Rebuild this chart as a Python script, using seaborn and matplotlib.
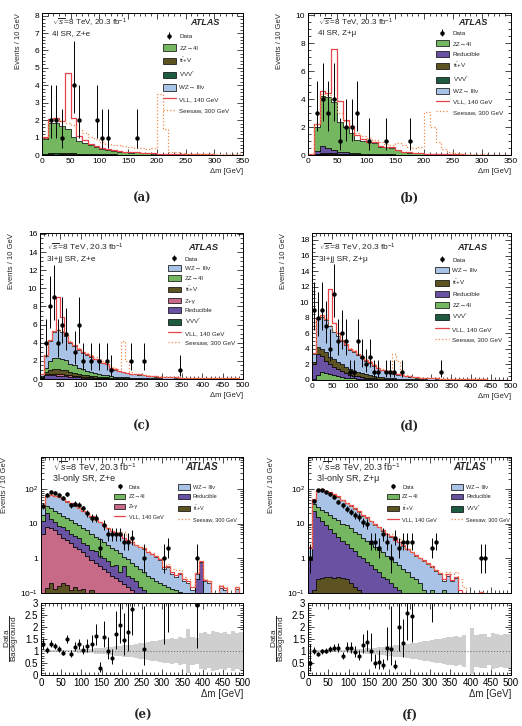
import numpy as np
import pandas as pd
import matplotlib
matplotlib.use('Agg')
import matplotlib.pyplot as plt
from matplotlib.patches import Patch
from matplotlib.lines import Line2D
from matplotlib.ticker import MultipleLocator, AutoMinorLocator, NullFormatter
import seaborn as sns

# ---- (a) 4l SR, Z+e : 10 GeV bins, 0-350
zz_a = [0.85, 1.75, 1.7, 1.55, 1.4, 0.95, 0.75, 0.6, 0.5, 0.4,
        0.33, 0.27, 0.22, 0.18, 0.15, 0.12, 0.15, 0.1, 0.08, 0.06,
        0.05, 0.04, 0.04, 0.03, 0.03, 0.02, 0.02, 0.02, 0.01, 0.01,
        0.01, 0.01, 0.01, 0.01, 0.01]
ttv_a = [0.02, 0.04, 0.05, 0.05, 0.04, 0.04, 0.03, 0.03, 0.02, 0.02,
         0.02, 0.02, 0.01, 0.01, 0.01, 0.01, 0.01, 0.01, 0.01, 0,
         0, 0, 0, 0, 0, 0, 0, 0, 0, 0, 0, 0, 0, 0, 0]
vvv_a = [0.03, 0.06, 0.07, 0.06, 0.06, 0.05, 0.04, 0.03, 0.03, 0.02,
         0.02, 0.02, 0.02, 0.01, 0.01, 0.01, 0.01, 0.01, 0.01, 0.01,
         0, 0, 0, 0, 0, 0, 0, 0, 0, 0, 0, 0, 0, 0, 0]
wz_a = [0.01, 0.01, 0.02, 0.01, 0.01, 0.01, 0.01, 0.01, 0.01, 0.01,
        0, 0, 0, 0, 0, 0, 0, 0, 0, 0,
        0, 0, 0, 0, 0, 0, 0, 0, 0, 0, 0, 0, 0, 0, 0]
vll_a = [1.05, 2.05, 2.1, 1.95, 4.7, 2.1, 1.1, 0.85, 0.65, 0.52,
         0.42, 0.35, 0.28, 0.24, 0.2, 0.17, 0.2, 0.14, 0.11, 0.09,
         0.08, 0.07, 0.06, 0.05, 0.05, 0.04, 0.04, 0.03, 0.03, 0.03,
         0.02, 0.02, 0.02, 0.02, 0.02]
seesaw_a = [1.0, 1.95, 2.05, 1.95, 1.85, 1.75, 1.45, 1.25, 1.05, 0.9,
            0.75, 0.65, 0.6, 0.55, 0.5, 0.45, 0.4, 0.38, 0.35, 0.4,
            3.5, 1.5, 0.2, 0.18, 0.1, 0.07, 0.05, 0.05, 0.04, 0.04,
            0.03, 0.03, 0.03, 0.03, 0.03]
data_a = [0, 2, 2, 1, 0, 4, 2, 0, 0, 2, 1, 1, 0, 0, 0, 0, 1, 0, 0, 0,
          0, 0, 0, 0, 0, 0, 0, 0, 0, 0, 0, 0, 0, 0, 0]

# ---- (b) 4l SR, Z+mu
zz_b = [0.05, 1.75, 3.55, 3.65, 3.45, 2.15, 1.85, 1.4, 1.0, 0.9,
        0.82, 0.8, 0.52, 0.5, 0.48, 0.3, 0.2, 0.15, 0.12, 0.1,
        0.08, 0.07, 0.05, 0.04, 0.04, 0.03, 0.03, 0.02, 0.02, 0.02,
        0.01, 0.01, 0.01, 0.01, 0.01]
red_b = [0.02, 0.18, 0.5, 0.35, 0.22, 0.12, 0.1, 0.08, 0.06, 0.05,
         0.04, 0.04, 0.03, 0.03, 0.02, 0.02, 0.02, 0.01, 0.01, 0.01,
         0, 0, 0, 0, 0, 0, 0, 0, 0, 0, 0, 0, 0, 0, 0]
ttv_b = [0, 0.03, 0.05, 0.05, 0.04, 0.04, 0.03, 0.03, 0.02, 0.02,
         0.02, 0.01, 0.01, 0.01, 0.01, 0, 0, 0, 0, 0,
         0, 0, 0, 0, 0, 0, 0, 0, 0, 0, 0, 0, 0, 0, 0]
vvv_b = [0.01, 0.04, 0.08, 0.07, 0.06, 0.05, 0.04, 0.03, 0.03, 0.02,
         0.02, 0.02, 0.01, 0.01, 0.01, 0.01, 0, 0, 0, 0,
         0, 0, 0, 0, 0, 0, 0, 0, 0, 0, 0, 0, 0, 0, 0]
wz_b = [0, 0.01, 0.01, 0.01, 0.01, 0.01, 0.01, 0, 0, 0,
        0, 0, 0, 0, 0, 0, 0, 0, 0, 0,
        0, 0, 0, 0, 0, 0, 0, 0, 0, 0, 0, 0, 0, 0, 0]
vll_b = [0.1, 2.2, 4.6, 4.45, 7.6, 3.9, 2.5, 2.05, 1.4, 1.15,
         0.95, 0.9, 0.62, 0.58, 0.55, 0.35, 0.25, 0.18, 0.14, 0.12,
         0.1, 0.08, 0.06, 0.05, 0.05, 0.04, 0.04, 0.03, 0.03, 0.03,
         0.02, 0.02, 0.02, 0.02, 0.02]
seesaw_b = [0.1, 2.2, 4.4, 4.3, 4.0, 3.0, 2.4, 2.0, 1.6, 1.35,
            1.2, 1.05, 0.9, 0.8, 0.7, 0.85, 0.7, 0.55, 0.5, 0.55,
            3.1, 2.0, 0.9, 0.4, 0.2, 0.12, 0.08, 0.06, 0.05, 0.04,
            0.04, 0.03, 0.03, 0.03, 0.03]
data_b = [0, 3, 4, 3, 4, 1, 2, 2, 3, 0, 1, 0, 0, 1, 0, 0, 0, 1, 0, 0,
          0, 0, 0, 0, 0, 0, 0, 0, 0, 0, 0, 0, 0, 0, 0]

# ---- (c) 3l+jj SR, Z+e : 0-500
wz_c = [0.2, 1.3, 2.15, 2.85, 3.0, 2.9, 2.65, 2.3, 2.1, 2.0,
        1.85, 1.8, 1.7, 1.55, 1.45, 1.3, 1.2, 0.9, 0.75, 0.65,
        0.57, 0.5, 0.42, 0.38, 0.34, 0.3, 0.27, 0.23, 0.21, 0.19,
        0.17, 0.16, 0.14, 0.13, 0.12, 0.1, 0.09, 0.08, 0.08, 0.07,
        0.06, 0.06, 0.05, 0.05, 0.05, 0.04, 0.04, 0.03, 0.03, 0.03]
zz_c = [0.1, 0.4, 1.0, 1.2, 1.25, 1.25, 1.1, 0.9, 0.8, 0.7,
        0.6, 0.5, 0.4, 0.35, 0.3, 0.25, 0.22, 0.15, 0.12, 0.1,
        0.09, 0.08, 0.07, 0.06, 0.05, 0.05, 0.04, 0.04, 0.03, 0.03,
        0.03, 0.02, 0.02, 0.02, 0.02, 0.02, 0.01, 0.01, 0.01, 0.01,
        0.01, 0.01, 0.01, 0.01, 0.01, 0.01, 0.01, 0.01, 0.01, 0.01]
ttv_c = [0.05, 0.3, 0.4, 0.5, 0.55, 0.5, 0.5, 0.4, 0.35, 0.25,
         0.2, 0.2, 0.17, 0.14, 0.12, 0.1, 0.09, 0.08, 0.07, 0.06,
         0.05, 0.05, 0.04, 0.04, 0.03, 0.03, 0.03, 0.02, 0.02, 0.02,
         0.02, 0.02, 0.01, 0.01, 0.01, 0.01, 0.01, 0.01, 0.01, 0.01,
         0, 0, 0, 0, 0, 0, 0, 0, 0, 0]
zg_c = [0.03, 0.1, 0.15, 0.2, 0.2, 0.18, 0.17, 0.15, 0.13, 0.1,
        0.1, 0.08, 0.07, 0.06, 0.05, 0.04, 0.04, 0.03, 0.03, 0.02,
        0.02, 0.02, 0.01, 0.01, 0.01, 0, 0, 0, 0, 0,
        0, 0, 0, 0, 0, 0, 0, 0, 0, 0, 0, 0, 0, 0, 0, 0, 0, 0, 0, 0]
red_c = [0.1, 0.35, 0.4, 0.35, 0.3, 0.28, 0.24, 0.21, 0.19, 0.17,
         0.12, 0.1, 0.09, 0.08, 0.07, 0.06, 0.05, 0.04, 0.04, 0.03,
         0.03, 0.02, 0.02, 0.02, 0.01, 0.01, 0.01, 0.01, 0.01, 0.01,
         0, 0, 0, 0, 0, 0, 0, 0, 0, 0, 0, 0, 0, 0, 0, 0, 0, 0, 0, 0]
vvv_c = [0.02, 0.05, 0.05, 0.05, 0.05, 0.04, 0.04, 0.04, 0.03, 0.03,
         0.03, 0.02, 0.02, 0.02, 0.02, 0.02, 0.01, 0.01, 0.01, 0.01,
         0.01, 0.01, 0.01, 0.01, 0.01, 0, 0, 0, 0, 0,
         0, 0, 0, 0, 0, 0, 0, 0, 0, 0, 0, 0, 0, 0, 0, 0, 0, 0, 0, 0]
vll_c = [0.5, 2.6, 4.3, 5.3, 9.0, 6.8, 4.9, 4.1, 3.7, 3.3,
         2.95, 2.75, 2.5, 2.25, 2.05, 1.8, 1.65, 1.25, 1.05, 0.9,
         0.8, 0.7, 0.6, 0.55, 0.5, 0.43, 0.38, 0.33, 0.3, 0.27,
         0.24, 0.22, 0.2, 0.18, 0.16, 0.15, 0.14, 0.13, 0.12, 0.11,
         0.1, 0.09, 0.09, 0.08, 0.08, 0.07, 0.07, 0.06, 0.06, 0.05]
seesaw_c = [0.5, 2.6, 4.3, 5.3, 5.5, 5.3, 4.9, 4.2, 3.8, 3.45,
            3.1, 2.9, 2.65, 2.4, 2.2, 1.95, 1.8, 1.4, 1.2, 1.1,
            4.2, 2.0, 0.8, 0.6, 0.55, 0.48, 0.42, 0.36, 0.32, 0.28,
            0.25, 0.23, 0.21, 0.19, 0.17, 0.16, 0.15, 0.14, 0.13, 0.12,
            0.11, 0.1, 0.09, 0.08, 0.08, 0.07, 0.07, 0.06, 0.06, 0.05]
data_c = [0, 4, 8, 9, 4, 6, 5, 0, 3, 6, 2, 0, 2, 0, 2, 0, 2, 1, 0, 0,
          0, 0, 2, 0, 0, 2, 0, 0, 0, 0, 0, 0, 0, 0, 1, 0, 0, 0, 0, 0,
          0, 0, 0, 0, 0, 0, 0, 0, 0, 0]

# ---- (d) 3l+jj SR, Z+mu
wz_d = [1.1, 3.6, 4.1, 4.1, 3.9, 3.5, 3.4, 3.0, 2.8, 2.5,
        2.45, 2.2, 1.95, 1.75, 1.55, 1.3, 1.08, 0.95, 0.8, 0.65,
        0.58, 0.5, 0.43, 0.35, 0.3, 0.26, 0.23, 0.2, 0.18, 0.16,
        0.15, 0.13, 0.12, 0.11, 0.1, 0.09, 0.08, 0.08, 0.07, 0.06,
        0.06, 0.05, 0.05, 0.05, 0.04, 0.04, 0.03, 0.03, 0.03, 0.03]
ttv_d = [0.3, 0.9, 0.9, 1.1, 1.0, 1.0, 0.95, 0.9, 0.8, 0.7,
         0.6, 0.55, 0.47, 0.43, 0.37, 0.28, 0.24, 0.2, 0.18, 0.15,
         0.14, 0.13, 0.11, 0.1, 0.08, 0.06, 0.06, 0.05, 0.05, 0.04,
         0.04, 0.03, 0.03, 0.03, 0.02, 0.02, 0.02, 0.02, 0.01, 0.01,
         0.01, 0.01, 0.01, 0.01, 0, 0, 0, 0, 0, 0]
red_d = [1.85, 2.6, 2.1, 1.6, 1.25, 1.1, 0.85, 0.7, 0.6, 0.45,
         0.35, 0.28, 0.24, 0.2, 0.18, 0.14, 0.11, 0.09, 0.07, 0.06,
         0.05, 0.04, 0.04, 0.03, 0.03, 0.02, 0.02, 0.02, 0.01, 0.01,
         0.01, 0.01, 0.01, 0.01, 0.01, 0, 0, 0, 0, 0,
         0, 0, 0, 0, 0, 0, 0, 0, 0, 0]
zz_d = [0.13, 0.66, 0.95, 0.85, 0.71, 0.56, 0.47, 0.37, 0.27, 0.23,
        0.18, 0.15, 0.12, 0.11, 0.09, 0.07, 0.06, 0.05, 0.04, 0.03,
        0.03, 0.02, 0.02, 0.02, 0.01, 0.01, 0.01, 0.01, 0.01, 0.01,
        0, 0, 0, 0, 0, 0, 0, 0, 0, 0, 0, 0, 0, 0, 0, 0, 0, 0, 0, 0]
vvv_d = [0.02, 0.04, 0.05, 0.05, 0.04, 0.04, 0.03, 0.03, 0.03, 0.02,
         0.02, 0.02, 0.02, 0.01, 0.01, 0.01, 0.01, 0.01, 0.01, 0.01,
         0, 0, 0, 0, 0, 0, 0, 0, 0, 0,
         0, 0, 0, 0, 0, 0, 0, 0, 0, 0, 0, 0, 0, 0, 0, 0, 0, 0, 0, 0]
vll_d = [3.5, 8.0, 8.3, 7.9, 11.7, 7.3, 6.0, 5.2, 4.6, 4.0,
         3.7, 3.3, 2.9, 2.6, 2.3, 1.9, 1.6, 1.35, 1.15, 0.95,
         0.85, 0.75, 0.65, 0.55, 0.45, 0.4, 0.35, 0.3, 0.27, 0.24,
         0.22, 0.2, 0.18, 0.16, 0.15, 0.13, 0.12, 0.11, 0.1, 0.09,
         0.09, 0.08, 0.07, 0.07, 0.06, 0.06, 0.05, 0.05, 0.05, 0.04]
seesaw_d = [3.5, 8.0, 8.3, 7.9, 7.1, 6.4, 5.9, 5.2, 4.7, 4.1,
            3.8, 3.4, 3.0, 2.7, 2.4, 2.0, 1.7, 1.45, 1.25, 1.05,
            3.4, 2.4, 0.8, 0.6, 0.5, 0.42, 0.37, 0.32, 0.28, 0.25,
            0.22, 0.2, 0.18, 0.16, 0.15, 0.13, 0.12, 0.11, 0.1, 0.09,
            0.09, 0.08, 0.07, 0.07, 0.06, 0.06, 0.05, 0.05, 0.05, 0.04]
data_d = [9, 8, 9, 7, 4, 11, 5, 6, 5, 1, 1, 5, 3, 2, 3, 1, 1, 0, 1, 1,
          1, 0, 1, 0, 0, 0, 0, 0, 0, 0, 0, 0, 1, 0, 0, 0, 0, 0, 0, 0,
          0, 0, 0, 0, 0, 0, 0, 0, 0, 0]

# ---- (e) 3l-only SR, Z+e (log)
wz_e = [12, 32, 39, 40, 39, 35, 29, 25.5, 22.5, 19,
        15.5, 13.5, 10.8, 8.7, 7.4, 6.1, 5.2, 4.2, 3.8, 3.3,
        2.8, 2.45, 2.15, 1.8, 1.6, 1.5, 1.18, 1.03, 0.88, 0.7,
        0.33, 0.4, 0.22, 0.18, 0.24, 0.12, 0.2, 0.12, 0.1, 0.05,
        0.22, 0.2, 0, 0, 0.14, 0.12, 0, 0, 0.13, 0]
zz_e = [6, 12, 15, 13, 11, 9, 8.5, 7.5, 6, 5.2,
        4.7, 4.1, 3.4, 2.7, 2.4, 1.85, 1.55, 1.4, 1.05, 1.0,
        0.5, 0.63, 0.48, 0.38, 0.35, 0.28, 0.22, 0.17, 0.22, 0.2,
        0.17, 0.15, 0.13, 0.12, 0.11, 0.1, 0, 0, 0, 0,
        0, 0, 0, 0, 0, 0, 0, 0, 0, 0]
red_e = [7, 12, 6.5, 4.5, 4, 4, 3.1, 2.2, 2.3, 2.0,
         1.3, 1.2, 0.9, 0.85, 0.6, 0.55, 0.45, 0.28, 0.38, 0.18,
         0.42, 0.17, 0.15, 0.12, 0.15, 0.12, 0.1, 0.1, 0, 0,
         0, 0, 0, 0, 0, 0, 0, 0, 0.25, 0.8,
         0, 0, 0, 0, 0, 0, 0, 0, 0, 0]
zg_e = [5, 7.9, 7.3, 6.4, 4.8, 3.8, 3.2, 2.7, 2.05, 1.7,
        1.37, 1.1, 0.78, 0.67, 0.54, 0.45, 0.36, 0.29, 0.24, 0.2,
        0.16, 0.14, 0.11, 0.09, 0, 0, 0, 0, 0, 0,
        0, 0, 0, 0, 0, 0, 0, 0, 0, 0, 0, 0, 0, 0, 0, 0, 0, 0, 0, 0]
ttv_e = [0.02, 0.14, 0.2, 0.13, 0.16, 0.2, 0.17, 0.12, 0.15, 0.12,
         0.13, 0.1, 0.12, 0.08, 0.06, 0.05, 0.04, 0.03, 0.03, 0.02,
         0.02, 0.01, 0.01, 0.01, 0, 0, 0, 0, 0, 0,
         0, 0, 0, 0, 0, 0, 0, 0, 0, 0, 0, 0, 0, 0, 0, 0, 0, 0, 0, 0]
vll_e = [31, 66, 70, 66, 61, 54, 45, 39, 34, 29,
         24, 20.5, 16.5, 13.4, 11.3, 9.2, 7.8, 6.4, 5.6, 4.8,
         4.0, 3.5, 3.0, 2.5, 2.2, 1.95, 1.55, 1.35, 1.15, 0.95,
         0.55, 0.6, 0.4, 0.33, 0.38, 0.25, 0.22, 0.15, 0.37, 0.87,
         0.24, 0.22, 0.05, 0.05, 0.16, 0.14, 0.05, 0.05, 0.15, 0.05]
seesaw_e = [30, 64, 68, 64, 59, 52, 44, 38, 33, 28,
            23, 20, 16, 13, 11, 9.2, 7.8, 6.4, 5.8, 6.0,
            5.8, 4.5, 3.2, 2.5, 2.2, 2.0, 1.6, 1.4, 1.2, 1.0,
            0.6, 0.7, 0.5, 0.45, 0.45, 0.3, 0.25, 0.15, 0.38, 0.87,
            0.25, 0.22, 0.06, 0.06, 0.17, 0.15, 0.06, 0.06, 0.15, 0.06]
data_e = [33, 68, 82, 80, 67, 57, 72, 34, 38, 36, 28, 20, 15, 15, 2, 9, 5, 5, 5, 5,
          3, 3, 4, 0, 0, 1, 0, 0, 0, 0, 1, 2, 0, 0, 0, 0, 0, 0, 1, 0,
          0, 0, 0, 0, 0, 0, 0, 0, 0, 0]
ratio_e = [1.28, 1.05, 1.3, 1.2, 1.08, 0.93, 1.5, 0.88, 1.18, 1.28,
           1.05, 1.2, 1.3, 1.63, 0.28, 1.6, 1.02, 0.7, 1.7, 2.1,
           1.47, 1.8, 2.75, 0, 0, 1.1, 0, 0, 0, 0,
           3.4, 3.6, 0, 0, 0, 0, 0, 0, 2.9, 0,
           0, 0, 0, 0, 0, 0, 0, 0, 0, 0]
band_e = [0.06, 0.04, 0.04, 0.04, 0.05, 0.05, 0.05, 0.06, 0.06, 0.07,
          0.08, 0.09, 0.1, 0.11, 0.12, 0.14, 0.15, 0.17, 0.19, 0.21,
          0.23, 0.25, 0.27, 0.3, 0.32, 0.35, 0.37, 0.4, 0.42, 0.45,
          0.5, 0.48, 0.55, 0.52, 0.6, 0.55, 0.9, 0.6, 0.55, 0.75,
          0.8, 0.7, 0.85, 0.8, 0.75, 0.8, 0.7, 0.85, 0.75, 0.8]

# ---- (f) 3l-only SR, Z+mu (log)
wz_f = [1, 12, 64, 72, 68, 62, 55, 47, 38, 31,
        25.5, 21, 17, 13, 11.7, 9.3, 7.3, 6.2, 4.8, 3.8,
        3.2, 2.6, 2.25, 1.8, 1.45, 1.2, 0.95, 0.8, 0.71, 0.57,
        0.44, 0.33, 0.28, 0.1, 0.27, 0.12, 0.27, 0.1, 0.08, 0,
        0, 0, 0, 0, 0, 0, 0, 0, 0, 0]
zz_f = [0.1, 14, 14, 14, 13, 11, 9.5, 8.8, 6.8, 6.5,
        5.5, 4.4, 3.8, 3.0, 2.5, 2.05, 1.7, 1.4, 1.2, 0.95,
        0.8, 0.65, 0.53, 0.4, 0.32, 0.24, 0.2, 0.16, 0.12, 0.1,
        0.12, 0.1, 0.08, 0.12, 0.05, 0.1, 0, 0, 0, 0,
        0, 0, 0, 0, 0, 0, 0, 0, 0, 0]
red_f = [0.9, 23.9, 15.7, 11.7, 8.7, 6.7, 5.2, 3.9, 2.9, 2.3,
         1.8, 1.45, 1.08, 0.9, 0.72, 0.59, 0.45, 0.36, 0.27, 0.23,
         0.18, 0.14, 0.12, 0.1, 0.08, 0.06, 0.05, 0.04, 0, 0,
         0, 0, 0, 0, 0, 0, 0, 0, 0, 0, 0, 0, 0, 0, 0, 0, 0, 0, 0, 0]
ttv_f = [0, 0.1, 0.22, 0.25, 0.27, 0.27, 0.26, 0.28, 0.26, 0.23,
         0.19, 0.14, 0.12, 0.1, 0.08, 0.06, 0.05, 0.04, 0.03, 0.02,
         0.02, 0.01, 0, 0, 0, 0, 0, 0, 0, 0,
         0, 0, 0, 0, 0, 0, 0, 0, 0, 0, 0, 0, 0, 0, 0, 0, 0, 0, 0, 0]
vvv_f = [0, 0.02, 0.03, 0.03, 0.03, 0.03, 0.02, 0.02, 0.02, 0.02,
         0.01, 0.01, 0, 0, 0, 0, 0, 0, 0, 0,
         0, 0, 0, 0, 0, 0, 0, 0, 0, 0,
         0, 0, 0, 0, 0, 0, 0, 0, 0, 0, 0, 0, 0, 0, 0, 0, 0, 0, 0, 0]
vll_f = [2.1, 51, 96, 100, 92, 82, 72, 62, 49, 41,
         34, 28, 23, 18, 15.5, 12.5, 9.8, 8.3, 6.5, 5.2,
         4.4, 3.5, 3.0, 2.4, 1.9, 1.55, 1.25, 1.05, 0.9, 0.72,
         0.6, 0.47, 0.38, 0.25, 0.35, 0.24, 0.3, 0.12, 0.1, 0.05,
         0.05, 0.05, 0.11, 0.05, 0.05, 0.05, 0.05, 0.05, 0.05, 0.05]
seesaw_f = [2, 50, 94, 98, 90, 80, 70, 60, 48, 40,
            33, 27, 22, 17, 15, 12, 9.5, 8, 6.6, 5.5,
            5.0, 4.2, 3.6, 2.5, 1.9, 1.5, 1.2, 1.0, 0.86, 0.7,
            0.56, 0.45, 0.38, 0.35, 0.4, 0.35, 0.4, 0.25, 0.15, 0.06,
            0.06, 0.06, 0.11, 0.06, 0.06, 0.06, 0.06, 0.06, 0.06, 0.06]
data_f = [1, 46, 95, 95, 85, 71, 60, 43, 35, 27, 22, 18, 16, 11, 10, 3, 3, 2, 5, 3,
          1, 4, 2, 3, 3, 3, 0, 0, 0, 0, 2, 3, 0, 0, 0, 0, 0, 0, 0, 0,
          0, 0, 1, 1, 0, 0, 0, 0, 0, 0]
ratio_f = [0.49, 1.02, 0.88, 0.98, 1.02, 1.09, 1.12, 1.14, 0.8, 1.14,
           1.12, 0.96, 0.81, 1.26, 1.37, 1.0, 0.49, 0.53, 0.42, 1.12,
           1.1, 0.38, 2.02, 1.32, 2.58, 2.44, 0, 0, 0, 0,
           4.4, 7.5, 0, 0, 0, 0, 0, 0, 0, 0,
           0, 0, 9, 9, 0, 0, 0, 0, 0, 0]
band_f = [0.08, 0.04, 0.04, 0.04, 0.04, 0.05, 0.05, 0.05, 0.06, 0.06,
          0.07, 0.08, 0.09, 0.1, 0.11, 0.12, 0.13, 0.15, 0.17, 0.19,
          0.21, 0.23, 0.25, 0.27, 0.3, 0.32, 0.35, 0.38, 0.4, 0.43,
          0.47, 0.5, 0.52, 0.55, 0.58, 0.6, 0.62, 0.6, 0.65, 0,
          0.95, 0.65, 0.7, 0.72, 0.6, 0.75, 0.7, 0.65, 0.7, 0.72]

colors = {'wz': '#a9c3e6', 'zz': '#74b760', 'ttv': '#5c5222', 'vvv': '#1d5a40',
          'red': '#6a52a2', 'zg': '#c76a88'}
names = {'wz': 'WZ\u2192 lll\u03bd', 'zz': 'ZZ\u21924l', 'ttv': r'$\mathrm{t\bar{t}}$+V',
         'vvv': r'VVV$^{*}$', 'red': 'Reducible', 'zg': 'Z+\u03b3'}
VLL_COL = '#e8434a'
SS_COL = '#f0884c'

sns.set_theme(style='ticks')
plt.rcParams['font.family'] = ['Liberation Sans', 'DejaVu Sans']
plt.rcParams['mathtext.fontset'] = 'custom'
plt.rcParams['mathtext.rm'] = 'Liberation Sans'
plt.rcParams['mathtext.it'] = 'Liberation Sans:italic'
plt.rcParams['mathtext.bf'] = 'Liberation Sans:bold'

W, H = 522, 726
fig = plt.figure(figsize=(W / 100, H / 100), dpi=100)


def rect(l, t, r, b):
    return [l / W, 1 - b / H, (r - l) / W, (b - t) / H]


def poisson(n):
    n = np.asarray(n, float)
    lo = n - (n + 0.5 - np.sqrt(n + 0.25))
    hi = (n + 0.5 + np.sqrt(n + 0.25)) - n
    return lo, hi


def style(ax):
    ax.tick_params(which='both', direction='in', top=True, right=True,
                   labelsize=6, width=0.5, pad=2, colors='black')
    ax.tick_params(which='major', length=4)
    ax.tick_params(which='minor', length=2)
    for s in ax.spines.values():
        s.set_linewidth(0.7)
        s.set_color('black')


def draw_panel(ax, xmax, procs, vll, seesaw, data):
    edges = list(range(0, xmax + 10, 10))
    centers = np.array(edges[:-1]) + 5
    keys = [k for k, _ in procs]
    df = pd.DataFrame({'dm': np.tile(centers, len(procs)),
                       'w': np.concatenate([np.asarray(v, float) for _, v in procs]),
                       'proc': np.repeat(keys, len(centers))})
    sns.histplot(data=df, x='dm', weights='w', hue='proc', hue_order=keys,
                 multiple='stack', element='step', bins=edges,
                 palette=[colors[k] for k in keys], alpha=1,
                 edgecolor='black', linewidth=0.5, legend=False, ax=ax)
    sns.histplot(x=centers, weights=vll, bins=edges, element='step', fill=False,
                 color=VLL_COL, linewidth=0.9, ax=ax)
    sns.histplot(x=centers, weights=seesaw, bins=edges, element='step', fill=False,
                 color=SS_COL, linewidth=0.9, linestyle=':', ax=ax)
    d = np.asarray(data, float)
    m = d > 0
    lo, hi = poisson(d[m])
    h = ax.errorbar(centers[m], d[m], yerr=[lo, hi], fmt='o', ms=2.2, color='black',
                    elinewidth=0.7, capsize=0, zorder=5)
    ax.set_xlim(0, xmax)
    ax.set_xlabel('')
    ax.set_ylabel('Events / 10 GeV', loc='top', fontsize=5.5, labelpad=9)
    ax.xaxis.set_major_locator(MultipleLocator(50))
    ax.xaxis.set_minor_locator(MultipleLocator(10))
    style(ax)
    return h


def legend(ax, h, keys, anchor, ncol=1, fs=4.5, hh=1.2, ls=0.7, cs=2.0):
    hs = [h] + [Patch(facecolor=colors[k], edgecolor='black', linewidth=0.5) for k in keys]
    hs += [Line2D([], [], color=VLL_COL, lw=0.9), Line2D([], [], color=SS_COL, lw=0.9, ls=':')]
    lb = ['Data'] + [names[k] for k in keys] + ['VLL, 140 GeV', 'Seesaw, 300 GeV']
    if ncol == 2:
        order = [0, 2, 4, 6, 1, 3, 5, 7]
        hs = [hs[i] for i in order]
        lb = [lb[i] for i in order]
    ax.legend(hs, lb, loc='upper left', bbox_to_anchor=anchor, ncol=ncol, frameon=False,
              fontsize=fs, handlelength=2.1, handleheight=hh, labelspacing=ls,
              handletextpad=0.6, borderpad=0, borderaxespad=0, columnspacing=cs)


def labels(ax, region, y1, y2, x0=0.05, xa=0.885, fs=6):
    ax.text(x0, y1, r'$\sqrt{s}$=8 TeV, 20.3 fb$^{-1}$', transform=ax.transAxes,
            fontsize=fs, va='center')
    ax.text(x0, y2, region, transform=ax.transAxes, fontsize=fs, va='center')
    ax.text(xa, y1, 'ATLAS', transform=ax.transAxes, fontsize=fs + 0.7, va='center',
            ha='right', weight='bold', style='italic')


def sublabel(x, y, s):
    fig.text(x, y, s, ha='center', va='center', family='DejaVu Serif',
             weight='bold', fontsize=8.5)


# (a)
ax = fig.add_axes(rect(42, 13, 243, 155))
keys = ['zz', 'ttv', 'vvv', 'wz']
h = draw_panel(ax, 350, [('zz', zz_a), ('ttv', ttv_a), ('vvv', vvv_a), ('wz', wz_a)],
               vll_a, seesaw_a, data_a)
ax.set_ylim(0, 8.15)
ax.yaxis.set_major_locator(MultipleLocator(1))
ax.yaxis.set_minor_locator(AutoMinorLocator(5))
ax.set_xlabel('\u0394m [GeV]', loc='right', fontsize=5.5, labelpad=2)
legend(ax, h, keys, (0.6, 0.86), hh=1.2, ls=0.8)
labels(ax, '4l SR, Z+e', 0.93, 0.855, fs=5.8)
sublabel(0.273, 0.726, '(a)')

# (b)
ax = fig.add_axes(rect(308, 13, 511, 155))
keys = ['zz', 'red', 'ttv', 'vvv', 'wz']
h = draw_panel(ax, 350, [('zz', zz_b), ('red', red_b), ('ttv', ttv_b), ('vvv', vvv_b), ('wz', wz_b)],
               vll_b, seesaw_b, data_b)
ax.set_ylim(0, 10.17)
ax.yaxis.set_major_locator(MultipleLocator(2))
ax.yaxis.set_minor_locator(AutoMinorLocator(4))
ax.set_xlabel('\u0394m [GeV]', loc='right', fontsize=5.5, labelpad=2)
legend(ax, h, keys, (0.63, 0.88), hh=1.1, ls=0.68)
labels(ax, '4l SR, Z+\u03bc', 0.93, 0.855, fs=5.8)
sublabel(0.785, 0.726, '(b)')

# (c)
ax = fig.add_axes(rect(40, 233, 243, 379))
keys = ['wz', 'zz', 'ttv', 'zg', 'red', 'vvv']
h = draw_panel(ax, 500, [('wz', wz_c), ('zz', zz_c), ('ttv', ttv_c), ('zg', zg_c),
                         ('red', red_c), ('vvv', vvv_c)], vll_c, seesaw_c, data_c)
ax.set_ylim(0, 16.1)
ax.yaxis.set_major_locator(MultipleLocator(2))
ax.yaxis.set_minor_locator(AutoMinorLocator(4))
ax.set_xlabel('\u0394m [GeV]', loc='right', fontsize=5.5, labelpad=2)
legend(ax, h, keys, (0.63, 0.845), hh=1.0, ls=0.6)
labels(ax, '3l+jj SR, Z+e', 0.9, 0.82, x0=0.033, xa=0.88)
sublabel(0.272, 0.412, '(c)')

# (d)
ax = fig.add_axes(rect(312, 233, 511, 380))
keys = ['wz', 'ttv', 'red', 'zz', 'vvv']
h = draw_panel(ax, 500, [('wz', wz_d), ('ttv', ttv_d), ('red', red_d), ('zz', zz_d),
                         ('vvv', vvv_d)], vll_d, seesaw_d, data_d)
ax.set_ylim(0, 18.9)
ax.yaxis.set_major_locator(MultipleLocator(2))
ax.yaxis.set_minor_locator(AutoMinorLocator(4))
ax.set_xlabel('\u0394m [GeV]', loc='right', fontsize=5.5, labelpad=2)
legend(ax, h, keys, (0.62, 0.84), hh=1.1, ls=0.7)
labels(ax, '3l+jj SR, Z+\u03bc', 0.9, 0.82, x0=0.033, xa=0.88)
sublabel(0.785, 0.412, '(d)')


def log_panel(main_rect, ratio_rect, procs, vll, seesaw, data, ratio, band, keys,
              region, anchor, xtxt):
    ax = fig.add_axes(main_rect)
    h = draw_panel(ax, 500, procs, vll, seesaw, data)
    ax.set_yscale('log')
    ax.set_ylim(0.1, 860)
    ax.set_yticks([0.1, 1, 10, 100])
    ax.set_yticklabels(['$10^{-1}$', '1', '10', '$10^{2}$'])
    ax.yaxis.set_minor_formatter(NullFormatter())
    ax.tick_params(labelbottom=False)
    style(ax)
    legend(ax, h, keys, anchor, ncol=2, fs=4.0, hh=1.1, ls=0.75, cs=2.6)
    labels(ax, region, 0.93, 0.84, x0=xtxt, xa=0.876, fs=6.5)

    rx = fig.add_axes(ratio_rect)
    edges = np.arange(0, 510, 10)
    centers = edges[:-1] + 5
    b = np.asarray(band, float)
    bot = np.clip(1 - b, 0, None)
    rx.bar(centers, 1 + b - bot, bottom=bot, width=10, color='#cfcfcf', linewidth=0)
    rx.axhline(1, color='#777777', lw=0.8, ls=':')
    d = np.asarray(data, float)
    r = np.asarray(ratio, float)
    m = (d > 0) & (r > 0)
    lo, hi = poisson(d[m])
    rx.errorbar(centers[m], r[m], yerr=[r[m] * lo / d[m], r[m] * hi / d[m]], fmt='o',
                ms=2.0, color='black', elinewidth=0.7, capsize=0, zorder=5)
    rx.set_xlim(0, 500)
    rx.set_ylim(0, 3)
    rx.xaxis.set_major_locator(MultipleLocator(50))
    rx.xaxis.set_minor_locator(MultipleLocator(10))
    rx.set_yticks([0, 0.5, 1, 1.5, 2, 2.5, 3])
    rx.set_yticklabels(['0', '0.5', '1', '1.5', '2', '2.5', '3'])
    rx.yaxis.set_minor_locator(AutoMinorLocator(5))
    style(rx)
    rx.tick_params(labelsize=7)
    rx.set_xlabel('\u0394m [GeV]', loc='right', fontsize=7, labelpad=1)
    rx.set_ylabel(r'$\dfrac{\mathrm{Data}}{\mathrm{Background}}$', fontsize=6, labelpad=3)
    return ax


log_panel(rect(41, 457, 243, 593), rect(41, 603, 243, 675),
          [('wz', wz_e), ('zz', zz_e), ('red', red_e), ('zg', zg_e), ('ttv', ttv_e)],
          vll_e, seesaw_e, data_e, ratio_e, band_e,
          ['wz', 'zz', 'red', 'zg', 'ttv'], '3l-only SR, Z+e', (0.36, 0.8), 0.06)
sublabel(0.274, 0.015, '(e)')

log_panel(rect(308, 457, 511, 593), rect(308, 603, 511, 675),
          [('wz', wz_f), ('zz', zz_f), ('red', red_f), ('ttv', ttv_f), ('vvv', vvv_f)],
          vll_f, seesaw_f, data_f, ratio_f, band_f,
          ['wz', 'zz', 'red', 'ttv', 'vvv'], '3l-only SR, Z+\u03bc', (0.39, 0.8), 0.045)
sublabel(0.785, 0.015, '(f)')

fig.savefig('out.png', dpi=100)
